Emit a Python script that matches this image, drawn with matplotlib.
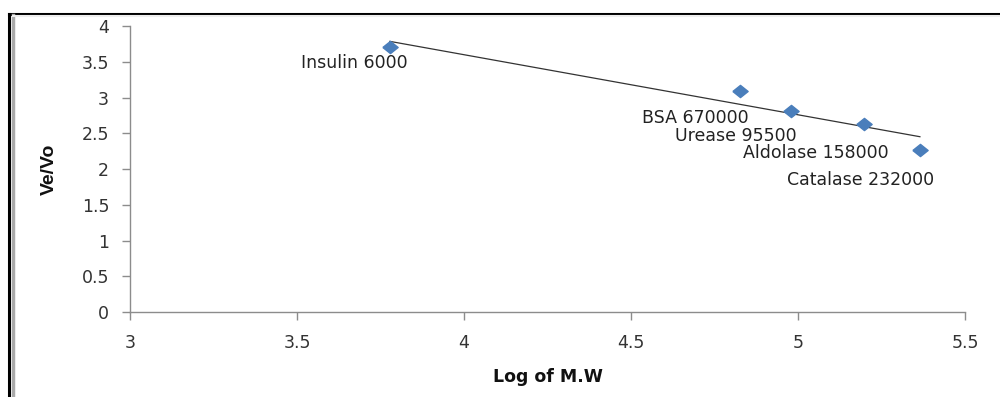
import matplotlib
matplotlib.use("Agg")
import matplotlib.pyplot as plt
import numpy as np
from matplotlib.lines import Line2D

# Data
proteins = ["Insulin 6000", "BSA 670000", "Urease 95500", "Aldolase 158000", "Catalase 232000"]
log_mw = [3.778, 4.826, 4.979, 5.198, 5.365]
ve_vo = [3.71, 3.09, 2.81, 2.63, 2.27]

# label offsets (pixels) - styling
label_offsets = [(-36, -16), (-45, -27), (-55, -25), (-48, -29), (-59, -30)]

fig = plt.figure(figsize=(10, 3.97), dpi=100)
ax = fig.add_axes([0.13, 0.214, 0.835, 0.7205])

diamond = [(-1.25, 0), (0, 1), (1.25, 0), (0, -1), (-1.25, 0)]
ax.plot(log_mw, ve_vo, linestyle="none", marker=diamond, markersize=11,
        color="#4A7EBB", markeredgecolor="#4A7EBB", zorder=3)

coef = np.polyfit(log_mw, ve_vo, 1)
xs = np.array([min(log_mw), max(log_mw)])
ax.plot(xs, np.polyval(coef, xs), color="#333333", linewidth=0.9, zorder=2)

for name, x, y, off in zip(proteins, log_mw, ve_vo, label_offsets):
    ax.annotate(name, (x, y), xytext=off, textcoords="offset pixels",
                ha="center", va="center", fontsize=12.5, color="#222222")

ax.set_xlim(3, 5.5)
ax.set_ylim(0, 4)
ax.set_xticks([3, 3.5, 4, 4.5, 5, 5.5])
ax.set_xticklabels(["3", "3.5", "4", "4.5", "5", "5.5"])
ax.set_yticks([0, 0.5, 1, 1.5, 2, 2.5, 3, 3.5, 4])
ax.set_yticklabels(["0", "0.5", "1", "1.5", "2", "2.5", "3", "3.5", "4"])

for s in ["top", "right"]:
    ax.spines[s].set_visible(False)
for s in ["left", "bottom"]:
    ax.spines[s].set_color("#8c8c8c")
    ax.spines[s].set_linewidth(1.0)
ax.tick_params(axis="both", colors="#8c8c8c", length=6, width=1, labelsize=12.5, labelcolor="#333333")
ax.tick_params(axis="x", pad=10)
ax.tick_params(axis="y", pad=9)

ax.set_xlabel("Log of M.W", fontsize=12.5, fontweight="bold", family="DejaVu Sans", labelpad=11, color="#111111")
ax.set_ylabel("Ve/Vo", fontsize=14, fontweight="bold", family="Liberation Sans", labelpad=17, color="#111111")

# Figure border (top and left)
fig.add_artist(Line2D([0.009, 1.0], [1 - 13.5/397, 1 - 13.5/397], transform=fig.transFigure, color="black", linewidth=2.2))
fig.add_artist(Line2D([0.009, 0.009], [0, 1 - 13.5/397], transform=fig.transFigure, color="black", linewidth=2.2))
fig.add_artist(Line2D([0.0125, 0.0125], [0, 1 - 15/397], transform=fig.transFigure, color="#aaaaaa", linewidth=2.5))
fig.add_artist(Line2D([0.0125, 1.0], [1 - 16/397, 1 - 16/397], transform=fig.transFigure, color="#eeeeee", linewidth=1.5))

fig.savefig("out.png", dpi=100)
